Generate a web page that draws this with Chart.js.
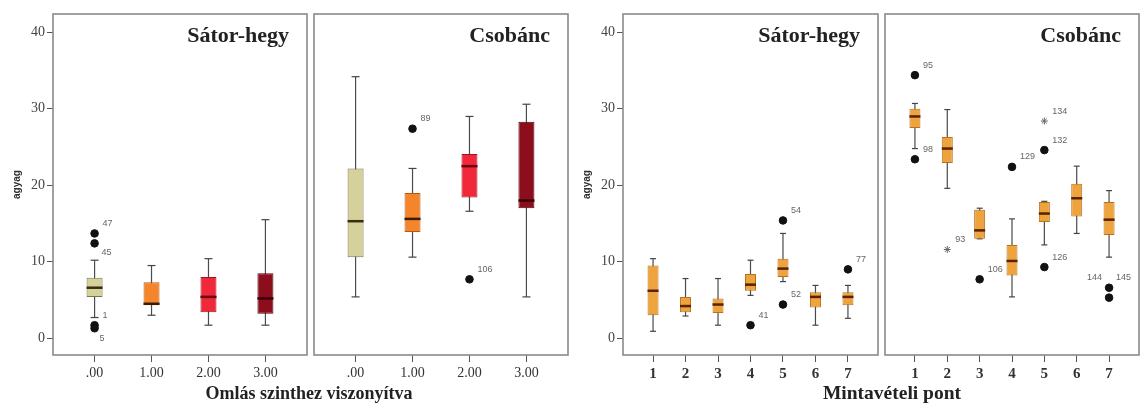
<!DOCTYPE html>
<html><head><meta charset="utf-8">
<script src="https://cdn.jsdelivr.net/npm/chart.js@4.4.0/dist/chart.umd.min.js"></script>
<style>
html,body{margin:0;padding:0;background:#fff;}
#wrap{position:relative;width:1140px;height:405px;overflow:hidden;background:#fff;}
canvas{position:absolute;top:0;}
.xt{position:absolute;font-family:"Liberation Serif",serif;font-weight:bold;line-height:20px;color:#222;white-space:nowrap;transform:translateX(-50%);}
</style></head><body>
<div id="wrap">
<canvas id="c1" width="310" height="405" style="left:0px"></canvas>
<canvas id="c2" width="260" height="405" style="left:311px"></canvas>
<canvas id="c3" width="311" height="405" style="left:570px"></canvas>
<canvas id="c4" width="258" height="405" style="left:882px"></canvas>
<div class="xt" id="xt1" style="left:309px;top:383px;font-size:18px"></div>
<div class="xt" id="xt2" style="left:892px;top:383px;font-size:19.5px"></div>
</div>
<script>
// ---- categories / text ----
const omlasLabels = ['.00', '1.00', '2.00', '3.00'];
const pontLabels = ['1', '2', '3', '4', '5', '6', '7'];
const yTickValues = [0, 10, 20, 30, 40];
const panelTitles = ['Sátor-hegy', 'Csobánc', 'Sátor-hegy', 'Csobánc'];
const yTitle = 'agyag';
const xTitles = ['Omlás szinthez viszonyítva', 'Mintavételi pont'];

// ---- Sátor-hegy by Omlás ----
const satorOmlasMin = [2.7, 3.0, 1.7, 1.7];
const satorOmlasQ1  = [5.4, 4.3, 3.4, 3.2];
const satorOmlasMed = [6.6, 4.5, 5.4, 5.2];
const satorOmlasQ3  = [7.9, 7.3, 8.0, 8.5];
const satorOmlasMax = [10.2, 9.5, 10.4, 15.5];
const satorOmlasOutX = [0, 0, 0, 0];
const satorOmlasOutY = [13.7, 12.4, 1.7, 1.3];
const satorOmlasOutId = ['47', '45', '1', '5'];

// ---- Csobánc by Omlás ----
const csobOmlasMin = [5.4, 10.6, 16.6, 5.4];
const csobOmlasQ1  = [10.6, 13.9, 18.4, 17.0];
const csobOmlasMed = [15.3, 15.6, 22.5, 18.0];
const csobOmlasQ3  = [22.2, 19.0, 24.1, 28.3];
const csobOmlasMax = [34.2, 22.2, 29.0, 30.6];
const csobOmlasOutX = [1, 2];
const csobOmlasOutY = [27.4, 7.7];
const csobOmlasOutId = ['89', '106'];

// ---- Sátor-hegy by Mintavételi pont ----
const satorPontMin = [0.9, 2.9, 1.7, 5.6, 7.4, 1.7, 2.6];
const satorPontQ1  = [3.0, 3.4, 3.3, 6.2, 8.0, 4.0, 4.3];
const satorPontMed = [6.2, 4.2, 4.4, 7.0, 9.1, 5.4, 5.4];
const satorPontQ3  = [9.5, 5.4, 5.2, 8.4, 10.4, 6.0, 6.0];
const satorPontMax = [10.4, 7.8, 7.8, 10.2, 13.7, 6.9, 6.9];
const satorPontOutX = [3, 4, 4, 6];
const satorPontOutY = [1.7, 15.4, 4.4, 9.0];
const satorPontOutId = ['41', '54', '52', '77'];

// ---- Csobánc by Mintavételi pont ----
const csobPontMin = [24.8, 19.6, 13.0, 5.4, 12.2, 13.7, 10.6];
const csobPontQ1  = [27.5, 22.9, 13.0, 8.2, 15.2, 15.9, 13.5];
const csobPontMed = [29.0, 24.8, 14.1, 10.1, 16.3, 18.3, 15.5];
const csobPontQ3  = [30.0, 26.3, 16.8, 12.2, 17.8, 20.2, 17.8];
const csobPontMax = [30.7, 29.9, 17.0, 15.6, 17.9, 22.5, 19.3];
const csobPontOutX = [0, 0, 2, 3, 4, 4, 6, 6];
const csobPontOutY = [34.4, 23.4, 7.7, 22.4, 24.6, 9.3, 6.6, 5.3];
const csobPontOutId = ['95', '98', '106', '129', '132', '126', '144', '145'];
const csobPontExtX = [1, 4];
const csobPontExtY = [11.6, 28.4];
const csobPontExtId = ['93', '134'];

// ---- styles ----
const omlasFill   = ['#d4d19b', '#f5852b', '#f0283a', '#8c0d1c'];
const omlasBorder = ['#7a7650', '#b45a12', '#a3101e', '#55050f'];
const omlasMedian = ['#3a2c10', '#3a1c05', '#6a0010', '#3a0008'];
const pontFill = '#eea33c';
const pontBorder = '#b5731e';
const pontMedian = '#5a2200';
const labelOffsets = { '45': [7, 9], '5': [5, 10], '144': [-22, -10], '145': [7, -20] };

document.getElementById('xt1').textContent = xTitles[0];
document.getElementById('xt2').textContent = xTitles[1];

const framePlugin = {
  id: 'frame',
  beforeDatasetsDraw(chart, args, opts) {
    const { left, top, right, bottom } = chart.chartArea;
    const ctx = chart.ctx;
    ctx.save();
    ctx.strokeStyle = '#8a8a8a';
    ctx.lineWidth = 1.6;
    ctx.strokeRect(left, top, right - left, bottom - top);
    ctx.restore();
  },
  afterDatasetsDraw(chart, args, opts) {
    const { top, right } = chart.chartArea;
    const ctx = chart.ctx;
    ctx.save();
    ctx.font = 'bold 22px "Liberation Serif"';
    ctx.textAlign = 'right';
    ctx.textBaseline = 'middle';
    ctx.fillStyle = '#222';
    ctx.fillText(opts.title, right - 18, top + 22);
    // outlier labels
    ctx.font = '9px "Liberation Sans"';
    ctx.fillStyle = '#666';
    ctx.textAlign = 'left';
    chart.data.datasets.forEach((ds, di) => {
      if (!ds.outlierIds) return;
      const meta = chart.getDatasetMeta(di);
      meta.data.forEach((pt, j) => {
        const id = ds.outlierIds[j];
        const off = labelOffsets[id] || [8, -10];
        ctx.fillText(id, pt.x + off[0], pt.y + off[1]);
      });
    });
    ctx.restore();
  }
};

function pts(xs, ys) { return xs.map((x, i) => ({ x: x, y: ys[i] })); }

function makeChart(id, cfg) {
  const datasets = [
    { type: 'scatter', data: pts(cfg.outX, cfg.outY), outlierIds: cfg.outId,
      pointStyle: 'circle', pointRadius: 3.8, backgroundColor: '#111', borderColor: '#111',
      pointBackgroundColor: '#111', pointBorderColor: '#111', order: 0 },
    { type: 'scatter', data: pts(cfg.labels.map((_, i) => i), cfg.med),
      pointStyle: 'line', pointRadius: cfg.boxPx / 2, pointBorderWidth: 2.5, borderWidth: 2.5,
      pointBorderColor: cfg.medColor, borderColor: cfg.medColor, order: 1 },
    { type: 'bar', data: cfg.q1.map((v, i) => ({ x: i, y: [v, cfg.q3[i]] })),
      backgroundColor: cfg.fill, borderColor: cfg.border, borderWidth: 1, borderSkipped: false,
      grouped: false, maxBarThickness: cfg.boxPx, order: 2 },
    { type: 'scatter', data: pts(cfg.labels.map((_, i) => i).concat(cfg.labels.map((_, i) => i)), cfg.min.concat(cfg.max)),
      pointStyle: 'line', pointRadius: cfg.capPx, pointBorderWidth: 1.2, borderWidth: 1.2,
      pointBorderColor: '#444', borderColor: '#444', order: 3 },
    { type: 'bar', data: cfg.min.map((v, i) => ({ x: i, y: [v, cfg.max[i]] })),
      backgroundColor: '#4a4a4a', borderWidth: 0, grouped: false, maxBarThickness: 1.2, order: 4 }
  ];
  if (cfg.extX) {
    datasets.unshift({ type: 'scatter', data: pts(cfg.extX, cfg.extY), outlierIds: cfg.extId,
      pointStyle: 'star', pointRadius: 3.5, pointBorderWidth: 1, borderWidth: 1,
      pointBorderColor: '#666', borderColor: '#666', backgroundColor: '#666', order: 0 });
  }
  return new Chart(document.getElementById(id), {
    type: 'bar',
    data: { datasets: datasets },
    options: {
      responsive: false, animation: false, events: [],
      layout: { padding: cfg.padding, autoPadding: false },
      plugins: { legend: { display: false }, tooltip: { enabled: false }, frame: { title: cfg.title } },
      scales: {
        x: {
          type: 'linear', min: cfg.xMin, max: cfg.xMax, offset: false,
          afterBuildTicks: s => { s.ticks = cfg.labels.map((_, i) => ({ value: i })); },
          afterFit: s => { s.height = 50; s.paddingLeft = 0; s.paddingRight = 0; s.paddingTop = 0; s.paddingBottom = 0; },
          ticks: { callback: v => cfg.labels[v], autoSkip: false, maxRotation: 0, padding: 3,
                   color: '#333', font: { family: 'Liberation Serif', size: cfg.xFontSize, weight: cfg.xFontWeight } },
          grid: { drawOnChartArea: false, drawTicks: true, tickLength: 7, color: '#555', offset: false },
          border: { display: false }
        },
        y: {
          type: 'linear', min: -2.2, max: 42.4, display: cfg.showY,
          afterBuildTicks: s => { s.ticks = yTickValues.map(v => ({ value: v })); },
          afterFit: s => { s.width = cfg.showY ? 53 : 0; s.paddingLeft = 0; s.paddingRight = 0; s.paddingTop = 0; s.paddingBottom = 0; },
          ticks: { padding: 2, color: '#444', font: { family: 'Liberation Serif', size: 14 } },
          grid: { drawOnChartArea: false, drawTicks: true, tickLength: 6, color: '#555' },
          border: { display: false },
          title: { display: true, text: yTitle, color: '#333', padding: { top: 11, bottom: 0 },
                   font: { family: 'Liberation Sans', weight: 'bold', size: 10 } }
        }
      }
    },
    plugins: [framePlugin]
  });
}

makeChart('c1', { labels: omlasLabels, min: satorOmlasMin, q1: satorOmlasQ1, med: satorOmlasMed, q3: satorOmlasQ3, max: satorOmlasMax,
  outX: satorOmlasOutX, outY: satorOmlasOutY, outId: satorOmlasOutId,
  fill: omlasFill, border: omlasBorder, medColor: omlasMedian, boxPx: 16, capPx: 4,
  xMin: -0.73, xMax: 3.73, showY: true, padding: { top: 14, right: 3, left: 0, bottom: 0 },
  title: panelTitles[0], xFontSize: 14, xFontWeight: 'normal' });
makeChart('c2', { labels: omlasLabels, min: csobOmlasMin, q1: csobOmlasQ1, med: csobOmlasMed, q3: csobOmlasQ3, max: csobOmlasMax,
  outX: csobOmlasOutX, outY: csobOmlasOutY, outId: csobOmlasOutId,
  fill: omlasFill, border: omlasBorder, medColor: omlasMedian, boxPx: 16, capPx: 4,
  xMin: -0.73, xMax: 3.73, showY: false, padding: { top: 14, right: 3, left: 3, bottom: 0 },
  title: panelTitles[1], xFontSize: 14, xFontWeight: 'normal' });
makeChart('c3', { labels: pontLabels, min: satorPontMin, q1: satorPontQ1, med: satorPontMed, q3: satorPontQ3, max: satorPontMax,
  outX: satorPontOutX, outY: satorPontOutY, outId: satorPontOutId,
  fill: pontFill, border: pontBorder, medColor: pontMedian, boxPx: 11, capPx: 3,
  xMin: -0.925, xMax: 6.925, showY: true, padding: { top: 14, right: 3, left: 0, bottom: 0 },
  title: panelTitles[2], xFontSize: 15, xFontWeight: 'bold' });
makeChart('c4', { labels: pontLabels, min: csobPontMin, q1: csobPontQ1, med: csobPontMed, q3: csobPontQ3, max: csobPontMax,
  outX: csobPontOutX, outY: csobPontOutY, outId: csobPontOutId,
  extX: csobPontExtX, extY: csobPontExtY, extId: csobPontExtId,
  fill: pontFill, border: pontBorder, medColor: pontMedian, boxPx: 11, capPx: 3,
  xMin: -0.925, xMax: 6.925, showY: false, padding: { top: 14, right: 1, left: 3, bottom: 0 },
  title: panelTitles[3], xFontSize: 15, xFontWeight: 'bold' });
</script>
</body></html>
